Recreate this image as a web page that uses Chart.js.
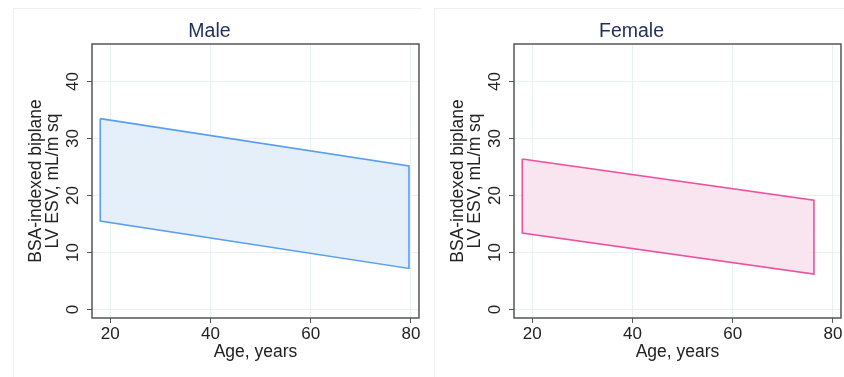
<!DOCTYPE html>
<html>
<head>
<meta charset="utf-8">
<script src="https://cdn.jsdelivr.net/npm/chart.js@4.4.1/dist/chart.umd.min.js"></script>
<style>
  html, body { margin: 0; padding: 0; background: #fff; }
  #wrap { position: relative; width: 844px; height: 377px; display: flex; }
  .panel { width: 422px; height: 377px; position: relative; }
</style>
</head>
<body>
<div id="wrap">
  <div class="panel"><canvas id="male" width="422" height="377"></canvas></div>
  <div class="panel"><canvas id="female" width="422" height="377"></canvas></div>
</div>
<script>
// reference band corners (age, BSA-indexed LV ESV)
const maleAges = [18, 79.6, 79.6, 18, 18];
const maleValues = [33.5, 25.2, 7.2, 15.5, 33.5];
const femaleAges = [18, 76.2, 76.2, 18, 18];
const femaleValues = [26.4, 19.2, 6.2, 13.4, 26.4];

const xTicks = [20, 40, 60, 80];
const yTicks = [0, 10, 20, 30, 40];
const yTitle = ["BSA-indexed biplane", "LV ESV, mL/m sq"];
const xTitle = "Age, years";

const FONT = "'Liberation Sans', Arial, sans-serif";
const TEXT = "#222";

// box around the plot region + faint frame around the panel
const frame = {
  id: "frame",
  beforeDraw(chart, args, opts) {
    const ctx = chart.ctx;
    ctx.save();
    ctx.strokeStyle = "#efefef";
    ctx.lineWidth = 1;
    ctx.strokeRect(opts.left + 0.5, 8.5, chart.width - opts.left + 10, chart.height);
    ctx.restore();
  },
  afterDraw(chart) {
    const a = chart.chartArea;
    const ctx = chart.ctx;
    ctx.save();
    ctx.strokeStyle = "#555";
    ctx.lineWidth = 1.5;
    ctx.strokeRect(a.left, a.top, a.right - a.left, a.bottom - a.top);
    ctx.restore();
  }
};

function makeChart(id, title, ages, values, line, fill, frameLeft) {
  const points = ages.map((x, i) => ({ x: x, y: values[i] }));
  return new Chart(document.getElementById(id), {
    type: "scatter",
    data: {
      datasets: [{
        data: points,
        showLine: true,
        borderColor: line,
        backgroundColor: fill,
        borderWidth: 1.6,
        pointRadius: 0,
        fill: "shape",
        tension: 0
      }]
    },
    options: {
      responsive: false,
      animation: false,
      layout: { padding: { left: 0, right: 3, top: 0, bottom: 0 } },
      plugins: {
        legend: { display: false },
        tooltip: { enabled: false },
        frame: { left: frameLeft },
        title: {
          display: true,
          text: title,
          color: "#1f2d5c",
          font: { family: FONT, size: 19.5, weight: "normal", lineHeight: 1 },
          padding: { top: 22, bottom: 2.5 }
        }
      },
      scales: {
        x: {
          type: "linear",
          min: 16.35,
          max: 81.6,
          afterBuildTicks: (s) => { s.ticks = xTicks.map((v) => ({ value: v })); },
          afterFit: (s) => { s.height = 59; },
          grid: { color: "#e9f0f2", lineWidth: 1, drawTicks: true, tickLength: 5, tickColor: "#555", tickWidth: 1 },
          border: { display: false },
          ticks: { color: TEXT, font: { family: FONT, size: 17 }, padding: 1.5, maxRotation: 0 },
          title: {
            display: true,
            text: xTitle,
            color: TEXT,
            font: { family: FONT, size: 17.5, lineHeight: 1 },
            padding: { top: 0, bottom: 16 }
          }
        },
        y: {
          min: -1.5,
          max: 46.6,
          afterBuildTicks: (s) => { s.ticks = yTicks.map((v) => ({ value: v })); },
          afterFit: (s) => { s.width = 92; },
          grid: { color: "#e9f0f2", lineWidth: 1, drawTicks: true, tickLength: 5, tickColor: "#555", tickWidth: 1 },
          border: { display: false },
          ticks: { color: TEXT, font: { family: FONT, size: 17 }, padding: 4, minRotation: 90, maxRotation: 90, crossAlign: "center" },
          title: {
            display: true,
            text: yTitle,
            color: TEXT,
            font: { family: FONT, size: 17.5, lineHeight: 0.96 },
            padding: { top: 28, bottom: 0 }
          }
        }
      }
    },
    plugins: [frame]
  });
}

makeChart("male", "Male", maleAges, maleValues, "#5a9ef0", "rgba(225,237,250,0.9)", 13);
makeChart("female", "Female", femaleAges, femaleValues, "#f0509e", "rgba(248,226,238,0.9)", 12);
</script>
</body>
</html>
